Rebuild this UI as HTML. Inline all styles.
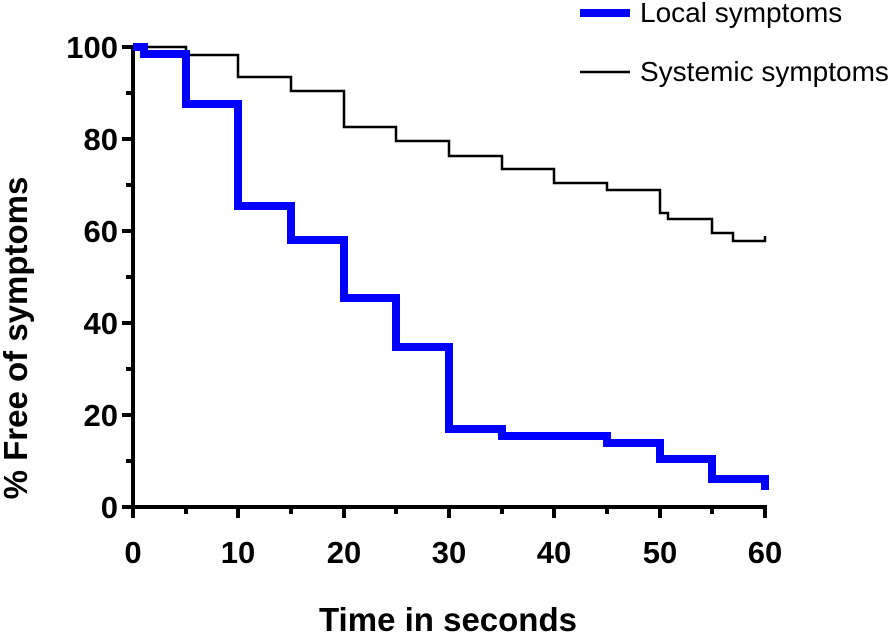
<!DOCTYPE html>
<html><head><style>body{margin:0;background:#fff}</style></head><body>
<svg width="896" height="633" xmlns="http://www.w3.org/2000/svg" font-family="Liberation Sans, sans-serif">
<g stroke="#000" stroke-width="4" fill="none">
<line x1="133" y1="45" x2="133" y2="509"/>
<line x1="131" y1="507" x2="767" y2="507"/>
<line x1="122" y1="47" x2="133" y2="47"/><line x1="122" y1="139" x2="133" y2="139"/><line x1="122" y1="231" x2="133" y2="231"/><line x1="122" y1="323" x2="133" y2="323"/><line x1="122" y1="415" x2="133" y2="415"/><line x1="122" y1="507" x2="133" y2="507"/>
<line x1="126" y1="93" x2="133" y2="93"/><line x1="126" y1="185" x2="133" y2="185"/><line x1="126" y1="277" x2="133" y2="277"/><line x1="126" y1="369" x2="133" y2="369"/><line x1="126" y1="461" x2="133" y2="461"/>
<line x1="133" y1="507" x2="133" y2="518"/><line x1="238" y1="507" x2="238" y2="518"/><line x1="344" y1="507" x2="344" y2="518"/><line x1="449" y1="507" x2="449" y2="518"/><line x1="554" y1="507" x2="554" y2="518"/><line x1="660" y1="507" x2="660" y2="518"/><line x1="765" y1="507" x2="765" y2="518"/>
<line x1="186" y1="507" x2="186" y2="514"/><line x1="291" y1="507" x2="291" y2="514"/><line x1="396" y1="507" x2="396" y2="514"/><line x1="502" y1="507" x2="502" y2="514"/><line x1="607" y1="507" x2="607" y2="514"/><line x1="712" y1="507" x2="712" y2="514"/>
</g>
<polyline fill="none" stroke="#000" stroke-width="2.5" points="133,47 186,47 186,55 238,55 238,77 291,77 291,91 344,91 344,127 396,127 396,141 449,141 449,156 502,156 502,169 554,169 554,183 607,183 607,190 660,190 660,213 668,213 668,219 712,219 712,233 733,233 733,241 765,241 765,236"/>
<polyline fill="none" stroke="#0000ff" stroke-width="8" points="133,47 144,47 144,54 186,54 186,104 238,104 238,206 291,206 291,240 344,240 344,298 396,298 396,347 449,347 449,429 502,429 502,436 607,436 607,443 660,443 660,459 712,459 712,479 765,479 765,490"/>
<g font-weight="bold" font-size="31" text-anchor="end">
<text x="118" y="58">100</text><text x="118" y="150">80</text><text x="118" y="242">60</text><text x="118" y="334">40</text><text x="118" y="426">20</text><text x="118" y="518">0</text>
</g>
<g font-weight="bold" font-size="31" text-anchor="middle">
<text x="133" y="563">0</text><text x="238" y="563">10</text><text x="344" y="563">20</text><text x="449" y="563">30</text><text x="554" y="563">40</text><text x="660" y="563">50</text><text x="765" y="563">60</text>
</g>
<text x="448" y="631" font-weight="bold" font-size="33" text-anchor="middle">Time in seconds</text>
<text transform="translate(27,338) rotate(-90)" font-weight="bold" font-size="33" text-anchor="middle">% Free of symptoms</text>
<line x1="580" y1="13" x2="630" y2="13" stroke="#0000ff" stroke-width="8"/>
<text x="640" y="22" font-size="28">Local symptoms</text>
<line x1="580" y1="72" x2="630" y2="72" stroke="#000" stroke-width="2.5"/>
<text x="640" y="81" font-size="28">Systemic symptoms</text>
</svg>
</body></html>
